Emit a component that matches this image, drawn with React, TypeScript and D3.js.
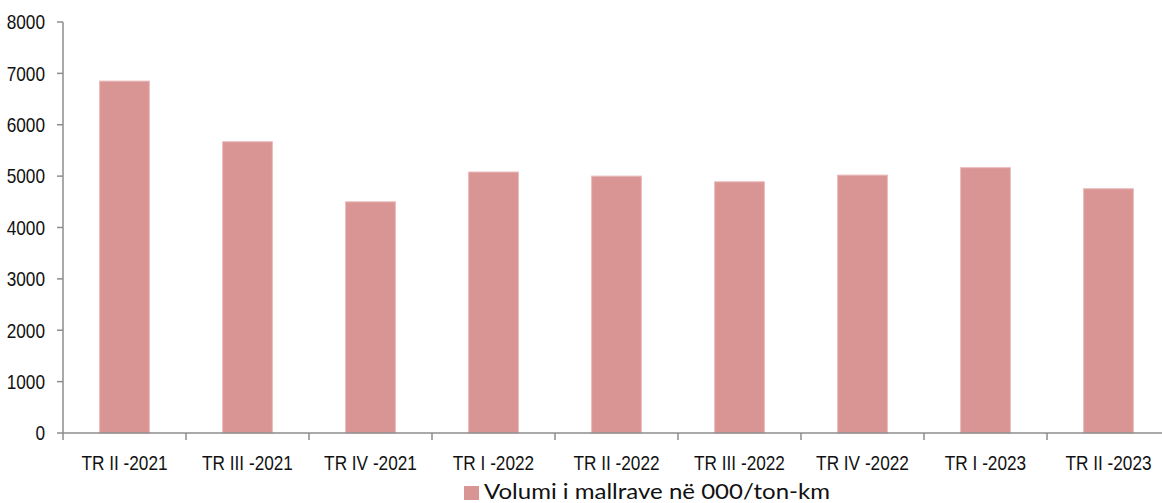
import React from 'react'
import * as d3 from 'd3'

const categories = ['TR II -2021', 'TR III -2021', 'TR IV -2021', 'TR I -2022', 'TR II -2022', 'TR III -2022', 'TR IV -2022', 'TR I -2023', 'TR II -2023']
const values = [6850, 5670, 4500, 5080, 5000, 4890, 5020, 5165, 4755]
const yTicks = [0, 1000, 2000, 3000, 4000, 5000, 6000, 7000, 8000]
const seriesName = 'Volumi i mallrave në 000/ton-km'

const W = 1162
const H = 503
const axisColor = '#8c8c8c'
const barColor = '#d99594'
// no narrow font installed, so squeeze Liberation Sans horizontally
const font = '"Liberation Sans", Arial, sans-serif'
const squeeze = 0.82

export default function App () {
  // scales
  const x = d3.scaleBand<string>()
    .domain(categories)
    .range([63, 1170])
    .paddingInner(0.595)
    .paddingOuter(0.2975)
  const y = d3.scaleLinear().domain([0, 8000]).range([433, 22])

  const step = x.step()
  const bounds = categories.map((c) => (x(c) as number) - step * 0.2975)
  bounds.push(bounds[bounds.length - 1] + step)

  return (
    <svg width={W} height={H} style={{position: 'absolute', left: 0, top: 0}}>
      <rect width={W} height={H} fill='#fff' />

      {/* bars */}
      {categories.map((c, i) => (
        <rect key={c} x={x(c)} y={y(values[i])} width={x.bandwidth()} height={y(0) - y(values[i])}
          fill={barColor} stroke='#ebbcbc' strokeWidth={1} />
      ))}

      {/* y axis */}
      <line x1={63} x2={63} y1={y(8000)} y2={y(0)} stroke={axisColor} strokeWidth={1.5} />
      {yTicks.map((t) => (
        <g key={t}>
          <line x1={57} x2={63} y1={y(t)} y2={y(t)} stroke={axisColor} strokeWidth={1.5} />
          <g transform={`translate(45,${y(t)}) scale(${squeeze},1)`}>
            <text dy='0.35em' textAnchor='end' fontFamily={font} fontSize={21} fill='#111'>{t}</text>
          </g>
        </g>
      ))}

      {/* x axis */}
      <line x1={63} x2={W} y1={y(0)} y2={y(0)} stroke={axisColor} strokeWidth={1.5} />
      {bounds.map((b, i) => (
        <line key={i} x1={b} x2={b} y1={y(0)} y2={y(0) + 7} stroke={axisColor} strokeWidth={1.5} />
      ))}
      {categories.map((c) => (
        <g key={c} transform={`translate(${(x(c) as number) + x.bandwidth() / 2},470) scale(${squeeze},1)`}>
          <text textAnchor='middle' fontFamily={font} fontSize={21} fill='#111'>{c}</text>
        </g>
      ))}

      {/* legend */}
      <rect x={464} y={486} width={15} height={14} fill={barColor} />
      <text x={484} y={499} fontFamily='Lato, "Open Sans", sans-serif' fontSize={22} fill='#111'
        textLength={346} lengthAdjust='spacingAndGlyphs'>{seriesName}</text>
    </svg>
  )
}
